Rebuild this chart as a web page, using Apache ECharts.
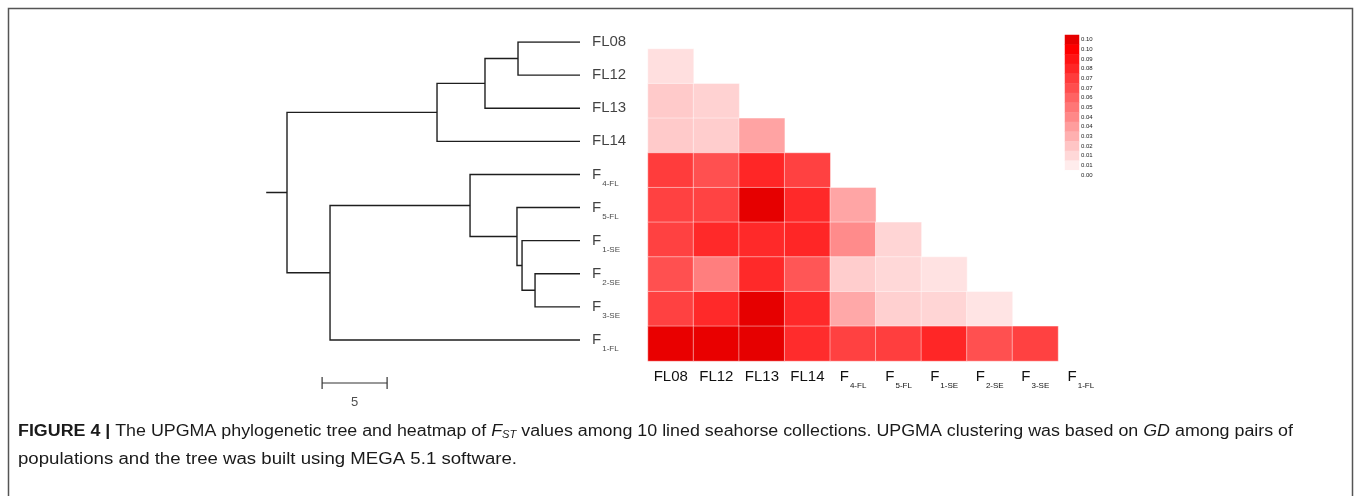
<!DOCTYPE html>
<html><head><meta charset="utf-8">
<script src="https://cdn.jsdelivr.net/npm/echarts@6/dist/echarts.min.js"></script>
<style>html,body{margin:0;padding:0;background:#fff}#c{width:1355px;height:496px}</style>
</head><body><div id="c"></div>
<script>
// ---- data ----
const leafMain = ['FL08','FL12','FL13','FL14','F','F','F','F','F','F'];
const leafSub  = ['','','','','4-FL','5-FL','1-SE','2-SE','3-SE','1-FL'];
// UPGMA merges: [childA, childB, node height]; leaves are 0..9, new nodes numbered 10..18
const merges = [
  [0, 1, 4.77],
  [10, 2, 7.31],
  [11, 3, 11.0],
  [7, 8, 3.46],
  [6, 13, 4.46],
  [5, 14, 4.85],
  [4, 15, 8.46],
  [16, 9, 19.23],
  [12, 17, 22.54]
];
const rootStub = 1.6;
const scaleLen = 5;
// FST heatmap, lower triangle: row r = leaf r+1, column c = leaf c
const fstFL12 = [0.012];
const fstFL13 = [0.020, 0.017];
const fstFL14 = [0.020, 0.019, 0.035];
const fstF4FL = [0.074, 0.066, 0.082, 0.072];
const fstF5FL = [0.072, 0.071, 0.104, 0.081, 0.034];
const fstF1SE = [0.072, 0.081, 0.081, 0.082, 0.044, 0.016];
const fstF2SE = [0.066, 0.049, 0.081, 0.064, 0.019, 0.015, 0.011];
const fstF3SE = [0.072, 0.081, 0.104, 0.081, 0.033, 0.018, 0.016, 0.010];
const fstF1FL = [0.103, 0.103, 0.104, 0.080, 0.072, 0.073, 0.082, 0.066, 0.072];
const fstRows = [fstFL12, fstFL13, fstFL14, fstF4FL, fstF5FL, fstF1SE, fstF2SE, fstF3SE, fstF1FL];
const legendTicks = ['0.10','0.10','0.09','0.08','0.07','0.07','0.06','0.05','0.04','0.04','0.03','0.02','0.01','0.01','0.00'];
const legendValues = [0.104,0.097,0.089,0.082,0.074,0.067,0.059,0.052,0.045,0.037,0.030,0.022,0.015,0.007,0.000];
const fstMax = 0.104;

// ---- tree layout ----
const nLeaf = leafMain.length;
const rootH = merges[merges.length - 1][2];
const nodeX = [], nodeY = [];
for (let i = 0; i < nLeaf; i++) { nodeX[i] = rootH; nodeY[i] = i; }
const treeSegs = [];
merges.forEach((m, k) => {
  const id = nLeaf + k;
  nodeX[id] = rootH - m[2];
  nodeY[id] = (nodeY[m[0]] + nodeY[m[1]]) / 2;
  treeSegs.push({ coords: [[nodeX[m[0]], nodeY[m[0]]], [nodeX[id], nodeY[m[0]]], [nodeX[id], nodeY[m[1]]], [nodeX[m[1]], nodeY[m[1]]]] });
});
const rootId = nLeaf + merges.length - 1;
treeSegs.push({ coords: [[-rootStub, nodeY[rootId]], [0, nodeY[rootId]]] });

const sx = 2.7, sy = 10.3, tk = 0.18;
const scaleSegs = [
  { coords: [[sx, sy], [sx + scaleLen, sy]] },
  { coords: [[sx, sy - tk], [sx, sy + tk]] },
  { coords: [[sx + scaleLen, sy - tk], [sx + scaleLen, sy + tk]] }
];

const FONT = '"Liberation Sans", Arial, sans-serif';
function richLabel(i) {
  return leafSub[i] ? '{m|' + leafMain[i] + '}{s|' + leafSub[i] + '}' : '{m|' + leafMain[i] + '}';
}
const labelRich = {
  m: { fontSize: 15, fontFamily: FONT, color: '#111' },
  s: { fontSize: 8, fontFamily: FONT, color: '#111', padding: [18, 0, 0, 1] }
};

const heatData = [];
fstRows.forEach((row, r) => row.forEach((v, c) => heatData.push([c, r, v])));
const legendData = legendValues.map((v, i) => [0, i, v]);

// colour ramp (style): white -> red, last step darker red
const ramp = [];
for (let i = 0; i < 14; i++) {
  const g = Math.round(255 * (1 - i / 13));
  ramp.push('rgb(255,' + g + ',' + g + ')');
}
ramp.push('rgb(230,0,0)');

// ---- caption measurement ----
const cv = document.createElement('canvas').getContext('2d');
function mw(txt, font) { cv.font = font; return cv.measureText(txt).width; }
const CS = 16;
const FC = CS + 'px ' + FONT;
const w1 = mw('FIGURE 4 |', 'bold ' + FC) + mw(' The UPGMA phylogenetic tree and heatmap of ', FC) +
  mw('F', 'italic ' + FC) + mw('ST', 'italic 10px ' + FONT) +
  mw(' values among 10 lined seahorse collections. UPGMA clustering was based on ', FC) +
  mw('GD', 'italic ' + FC) + mw(' among pairs of', FC);
const w2 = mw('populations and the tree was built using MEGA 5.1 software.', FC);
const capScale1 = Math.max(0.75, Math.min(1.2, 1275 / w1));
const capScale2 = Math.max(0.75, Math.min(1.2, 499 / w2));
const capRich = {
  b: { fontWeight: 'bold', fontSize: CS, fontFamily: FONT, fill: '#1a1a1a' },
  r: { fontSize: CS, fontFamily: FONT, fill: '#1a1a1a' },
  i: { fontStyle: 'italic', fontSize: CS, fontFamily: FONT, fill: '#1a1a1a' },
  si: { fontStyle: 'italic', fontSize: 10, fontFamily: FONT, fill: '#1a1a1a', padding: [7, 0, 0, 0] }
};

const chart = echarts.init(document.getElementById('c'), null, { renderer: 'canvas' });
chart.setOption({
  animation: false,
  backgroundColor: '#fff',
  grid: [
    { left: 261, top: 42, width: 325, height: 364.2 },
    { left: 648, top: 49, width: 455.6, height: 312 },
    { left: 1065, top: 35, width: 14, height: 145 }
  ],
  xAxis: [
    { gridIndex: 0, type: 'value', min: -2, max: 23, show: false },
    { gridIndex: 1, type: 'category', data: leafMain.map((m, i) => i),
      axisLine: { show: false }, axisTick: { show: false }, splitLine: { show: false },
      axisLabel: { interval: 0, margin: 16, verticalAlign: 'middle', color: '#111',
        formatter: (v, i) => richLabel(i), rich: labelRich } },
    { gridIndex: 2, type: 'category', data: ['k'], show: false }
  ],
  yAxis: [
    { gridIndex: 0, type: 'value', min: 0, max: 11, inverse: true, show: false },
    { gridIndex: 1, type: 'category', data: fstRows.map((r, i) => i), inverse: true, show: false },
    { gridIndex: 2, type: 'category', data: legendTicks, inverse: true, position: 'right',
      axisLine: { show: false }, axisTick: { show: false },
      axisLabel: { interval: 0, margin: 2, fontSize: 6, color: '#222', fontFamily: FONT,
        formatter: (v, i) => legendTicks[i] } }
  ],
  visualMap: {
    type: 'continuous', show: false, min: 0, max: fstMax, seriesIndex: [4, 5], dimension: 2,
    inRange: { color: ramp }
  },
  series: [
    { type: 'lines', coordinateSystem: 'cartesian2d', xAxisIndex: 0, yAxisIndex: 0, polyline: true,
      silent: true, lineStyle: { color: '#1e1e1e', width: 1.4, opacity: 1 }, data: treeSegs },
    { type: 'lines', coordinateSystem: 'cartesian2d', xAxisIndex: 0, yAxisIndex: 0, polyline: true,
      silent: true, lineStyle: { color: '#333', width: 1.2, opacity: 1 }, data: scaleSegs },
    { type: 'scatter', xAxisIndex: 0, yAxisIndex: 0, symbolSize: 0, silent: true,
      data: leafMain.map((m, i) => [nodeX[i], nodeY[i]]),
      label: { show: true, position: 'right', distance: 12, color: '#111',
        formatter: p => richLabel(p.dataIndex), rich: labelRich } },
    { type: 'scatter', xAxisIndex: 0, yAxisIndex: 0, symbolSize: 0, silent: true,
      data: [[sx + scaleLen / 2, sy]],
      label: { show: true, position: 'bottom', distance: 13, formatter: String(scaleLen), fontSize: 13, color: '#222', fontFamily: FONT } },
    { type: 'heatmap', xAxisIndex: 1, yAxisIndex: 1, data: heatData, silent: true,
      itemStyle: { borderColor: 'rgba(255,255,255,0.45)', borderWidth: 1 } },
    { type: 'heatmap', xAxisIndex: 2, yAxisIndex: 2, data: legendData, silent: true }
  ],
  graphic: [
    { type: 'rect', shape: { x: 8.5, y: 8.5, width: 1344, height: 520 }, style: { fill: 'none', stroke: '#555', lineWidth: 1.5 }, silent: true },
    { type: 'text', x: 18, y: 432, scaleX: capScale1, originX: 0, originY: 0, silent: true,
      style: { x: 0, y: 0, verticalAlign: 'middle', align: 'left', fontSize: CS, fontFamily: FONT, fill: '#1a1a1a',
        text: '{b|FIGURE 4 |}{r| The UPGMA phylogenetic tree and heatmap of }{i|F}{si|ST}{r| values among 10 lined seahorse collections. UPGMA clustering was based on }{i|GD}{r| among pairs of}',
        rich: capRich } },
    { type: 'text', x: 18, y: 460, scaleX: capScale2, originX: 0, originY: 0, silent: true,
      style: { x: 0, y: 0, verticalAlign: 'middle', align: 'left', fontSize: CS, fontFamily: FONT, fill: '#1a1a1a',
        text: 'populations and the tree was built using MEGA 5.1 software.' } }
  ]
});
</script></body></html>
